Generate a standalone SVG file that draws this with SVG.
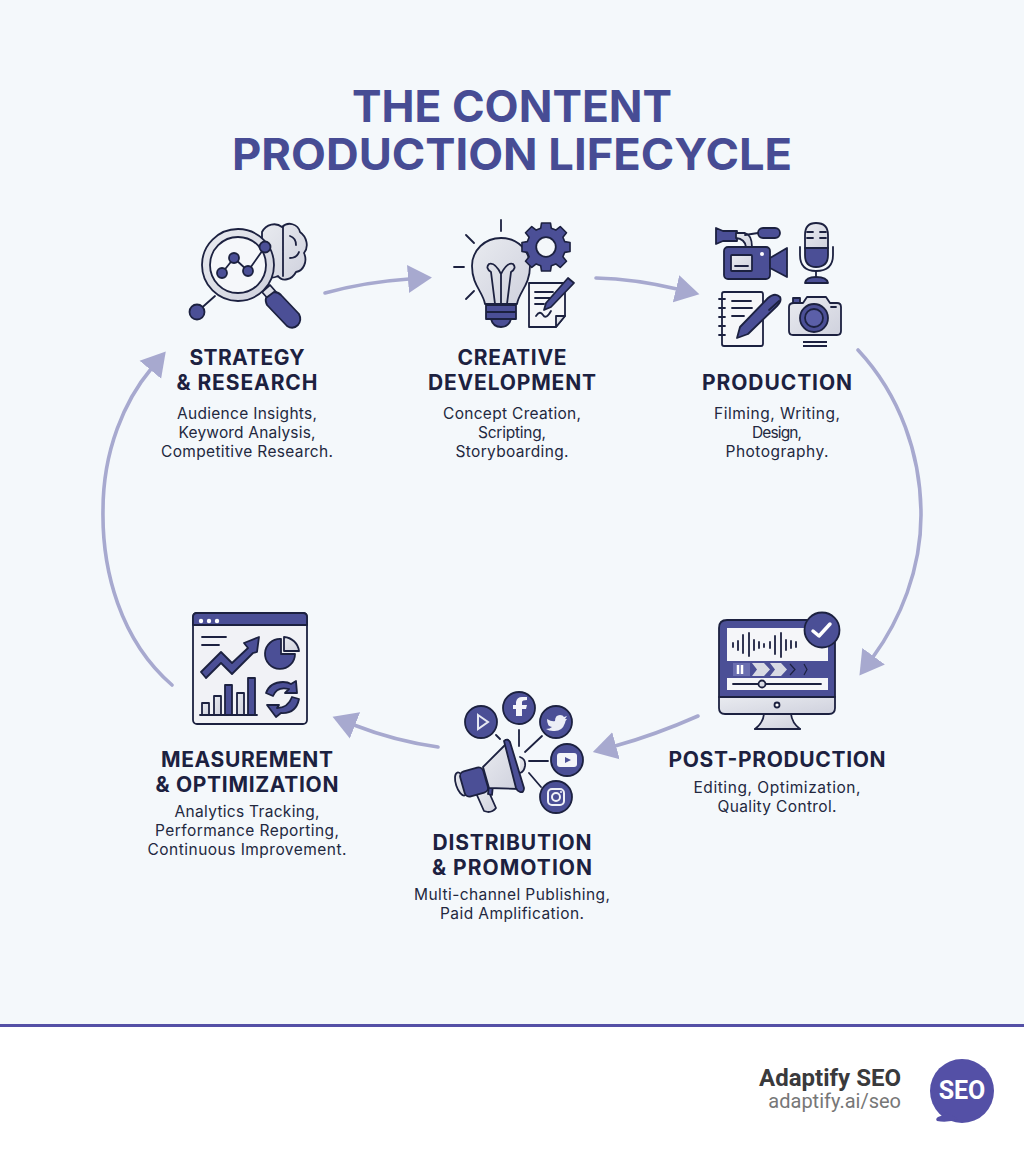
<svg xmlns="http://www.w3.org/2000/svg" width="1024" height="1154" viewBox="0 0 1024 1154">
<style>
.title{font:700 44px Inter,"Liberation Sans",sans-serif;fill:#474c94;text-anchor:middle}
.head{font:700 21px Inter,"Liberation Sans",sans-serif;fill:#1c2140;text-anchor:middle}
.body{font:400 15.5px Inter,"Liberation Sans",sans-serif;fill:#23283f;text-anchor:middle}
.a{fill:none;stroke:#a7a9cf;stroke-width:3.6;stroke-linecap:round}
.k{stroke:#1c2140;stroke-width:1.8;stroke-linejoin:round;stroke-linecap:round}
.i{fill:#4b4f96}.l{fill:url(#lg)}.w{fill:#f5f6f9}.n{fill:none}.p{fill:#fff;stroke:none}
</style>
<defs>
<marker id="ah" markerUnits="userSpaceOnUse" markerWidth="26" markerHeight="30" refX="1" refY="15" orient="auto"><path d="M0 1L24 15L0 29z" fill="#a7a9cf"/></marker>
<linearGradient id="lg" x1="0" y1="0" x2="1" y2="1"><stop offset="0" stop-color="#e9ebf0"/><stop offset="1" stop-color="#cfd1dd"/></linearGradient>
</defs>
<rect width="1024" height="1024" fill="#f4f8fb"/>
<rect y="1024" width="1024" height="130" fill="#fff"/>
<rect y="1024" width="1024" height="3" fill="#5450a6"/>
<g id="title"><text class="title" x="512" y="122" textLength="320" lengthAdjust="spacingAndGlyphs">THE CONTENT</text><text class="title" x="512" y="170" textLength="560" lengthAdjust="spacingAndGlyphs">PRODUCTION LIFECYCLE</text></g>

<g id="connectors">
<path class="a" marker-end="url(#ah)" d="M325 293Q365 282 409 279"/>
<path class="a" marker-end="url(#ah)" d="M596 278Q635 279 677 289"/>
<path class="a" marker-end="url(#ah)" d="M858 350C900 395 921 455 921 515C921 570 900 620 873 657"/>
<path class="a" marker-end="url(#ah)" d="M698 716Q655 735 615 746"/>
<path class="a" marker-end="url(#ah)" d="M438 747Q395 741 354 725"/>
<path class="a" marker-end="url(#ah)" d="M172 685C120 640 102 570 103 510C103 450 125 400 151 369"/>
</g>

<g id="node-strategy">
<path class="k l" d="M262 232C266 224 276 222 282 227C288 221 298 224 300 232C307 237 309 247 304 253C308 262 303 271 296 272C292 280 282 282 278 276C270 280 262 276 262 270z"/>
<path class="k n" d="M283 227V276M290 236Q296 238 296 245M290 258Q297 258 299 252"/>
<path class="k n" d="M197 312L215 296"/>
<circle class="k i" cx="197" cy="312" r="7.500"/>
<path class="k l" d="M262 292L270 285L277 293L269 300z"/>
<path class="k i" d="M266 298L274 292Q278 292 281 295L299 314Q302 320 298 325Q293 330 287 326L267 305Q265 301 266 298z"/>
<circle class="k l" cx="238" cy="265" r="36"/>
<circle class="k" cx="238" cy="265" r="28" fill="#f5f7fa"/>
<path class="k n" d="M222 273L234 258L248 271L265 247"/>
<circle class="k i" cx="222" cy="273" r="5"/><circle class="k i" cx="234" cy="258" r="5"/><circle class="k i" cx="248" cy="271" r="5"/><circle class="k i" cx="265" cy="247" r="5.500"/>
<text class="head" x="247" y="365" textLength="115">STRATEGY</text><text class="head" x="247" y="390" textLength="141">&amp; RESEARCH</text>
<text class="body" x="247" y="419" textLength="140">Audience Insights,</text><text class="body" x="247" y="438" textLength="137">Keyword Analysis,</text><text class="body" x="247" y="457" textLength="172">Competitive Research.</text>
</g>

<g id="node-creative">
<path class="k n" d="M501 220V231M466 235L474 243M454 267H464M466 299L474 291"/>
<path class="k l" d="M485 304C483 292 472 285 472 266C472 250 485 238 501 238C517 238 530 250 530 266C530 285 519 292 517 304z"/>
<path class="k n" d="M495 304L491 272Q485 268 489 264Q495 262 501 274Q507 262 513 264Q517 268 511 272L507 304M501 274V304"/>
<path class="k i" d="M486 305H516V312H486zM486 312H516V319H486zM491 319H511Q509 327 501 327Q493 327 491 319z"/>
<g transform="translate(546 247) scale(.89) translate(-547 -250)">
<path class="k i" d="M542 223H552L553 229L558 231L563 227L570 234L566 239L568 244L574 245V255L568 256L566 261L570 266L563 273L558 269L553 271L552 277H542L541 271L536 269L531 273L524 266L528 261L526 256L520 255V245L526 244L528 239L524 234L531 227L536 231L541 229z"/>
<circle cx="547" cy="250" r="11" style="fill:#f4f7fa;stroke:#1c2140;stroke-width:2"/></g>
<path class="k w" d="M529 283H565V316L556 327H529z"/>
<path class="k l" d="M556 327V316H565z"/>
<path class="k n" d="M535 292H553M535 298H550M535 304H544M536 316Q540 310 543 315T551 311"/>
<path class="k i" d="M546 303L568 278L574 283L551 307L544 310z"/>
<text class="head" x="512" y="365" textLength="109">CREATIVE</text><text class="head" x="512" y="390" textLength="168">DEVELOPMENT</text>
<text class="body" x="512" y="419" textLength="138">Concept Creation,</text><text class="body" x="512" y="438" textLength="68">Scripting,</text><text class="body" x="512" y="457" textLength="113">Storyboarding.</text>
</g>

<g id="node-production">
<path class="k i" d="M716 228L723 231H737V241H723L716 244z"/>
<path class="k l" d="M736 233H745Q752 235 752 247H746Q745 239 736 238z"/>
<rect class="k i" x="758" y="228" width="22" height="10" rx="5"/><path class="k n" d="M745 235L758 233"/>
<rect class="k i" x="724" y="247" width="46" height="32" rx="4"/>
<path class="k i" d="M770 258L787 248V277L770 268z"/>
<rect class="k l" x="731" y="255" width="21" height="16" rx="1"/><path class="k n" d="M735 266H748"/>
<circle class="p" cx="762" cy="254" r="2"/>
<path class="k i" d="M805 248V255Q805 267 816 267Q828 267 828 255V248z"/>
<path class="k l" d="M805 248V235Q805 223 816 223Q828 223 828 235V248z"/>
<path class="k n" d="M807 232H813M807 238H813M820 232H826M820 238H826M800 247V255Q800 271 816 271Q833 271 833 255V247M816 271V277"/>
<path class="k i" d="M805 283Q806 277 816 277Q827 277 828 283z"/>
<rect class="k w" x="722" y="292" width="41" height="54" rx="2"/>
<path class="k n" d="M719 299H725M719 308H725M719 317H725M719 326H725M719 335H725M732 301H751M732 308H752M732 316H744"/>
<path class="k i" d="M737 338L740 327L768 298Q775 292 780 297Q782 301 777 306L748 334z"/>
<path class="k n" d="M769 310L779 301"/>
<path class="k l" d="M794 303H803L807 297H826L830 303H837Q841 303 841 307V331Q841 335 837 335H793Q789 335 789 331V307Q789 303 794 303z"/>
<rect class="k i" x="793" y="298" width="7" height="5"/>
<circle class="k i" cx="814" cy="318" r="14"/><circle class="k" cx="814" cy="318" r="9" fill="#5b5fa8"/>
<path class="k n" d="M831 307H836"/><path d="M803 342H827M803 346H827" stroke="#1c2140" stroke-width="2"/>
<text class="head" x="777" y="390" textLength="150">PRODUCTION</text>
<text class="body" x="777" y="419" textLength="126">Filming, Writing,</text><text class="body" x="777" y="438" textLength="50">Design,</text><text class="body" x="777" y="457" textLength="103">Photography.</text>
</g>

<g id="node-post">
<path class="k l" d="M764 714H791Q792 723 800 729H755Q763 723 764 714z"/>
<path class="k n" d="M755 729H800"/>
<path class="k i" d="M719 697V628Q719 620 727 620H827Q835 620 835 628V697z"/>
<path class="k l" d="M719 697H835V708Q835 714 829 714H725Q719 714 719 708z"/>
<circle class="k" cx="777" cy="705" r="2.500" fill="#fff"/>
<rect class="w" x="727" y="628" width="101" height="33"/>
<rect class="w" x="727" y="678" width="101" height="12"/>
<path class="k n" d="M733 643V647M738 641V650M743 635V653M749 633V656M754 640V650M759 642V648M764 644V647M770 642V648M775 636V654M781 633V657M786 640V650M791 641V648M796 642V647M733 684H821"/>
<circle class="k l" cx="762" cy="684" r="3.500"/>
<rect x="733" y="663" width="17" height="13" fill="#6a6eb0"/>
<path d="M738 665V674M742 665V674" stroke="#fff" stroke-width="2.500"/>
<path d="M752 663H764L770 669.500L764 676H752L757 669.500zM770 663H781L787 669.500L781 676H770L775 669.500z" fill="#d8dae4"/>
<path d="M790 664L795 669.500L790 675M804 664L807 669.500L804 675" fill="none" stroke="#1c2140" stroke-width="1.200"/>
<circle class="k i" cx="822" cy="630" r="17.500"/>
<path d="M813 631L819 636L830 624" fill="none" stroke="#fff" stroke-width="3.500" stroke-linecap="round" stroke-linejoin="round"/>
<text class="head" x="777" y="767" textLength="217">POST-PRODUCTION</text>
<text class="body" x="777" y="793" textLength="167">Editing, Optimization,</text><text class="body" x="777" y="812" textLength="119">Quality Control.</text>
</g>

<g id="node-distribution">
<path class="k n" d="M496 735L500 739M519 730V746M542 736L525 752M548 761H529M541 787L529 773"/>
<path class="k l" d="M476 793L488 790L496 808Q493 812 488 812L484 811z"/>
<path class="k i" d="M489 786L493 785L492 795L488 794z"/>
<ellipse class="k l" cx="461" cy="784" rx="5" ry="12" transform="rotate(-18 461 784)"/>
<rect class="k i" x="462" y="769" width="24" height="26" rx="5" transform="rotate(-16 474 782)"/>
<path class="k l" d="M483 767L507 743L520 789L489 788z"/>
<path class="k l" d="M520 757Q526 759 525 766Q524 772 520 773"/>
<path class="k i" d="M504 741Q508 738 510 742L524 788Q524 793 520 792Q517 791 516 788z"/>
<circle class="k i" cx="481" cy="722" r="16"/><circle class="k i" cx="519" cy="708" r="16"/><circle class="k i" cx="556" cy="722" r="16"/><circle class="k i" cx="567" cy="760" r="16"/><circle class="k i" cx="556" cy="797" r="16"/>
<path d="M478 715L488 722L478 729z" fill="none" stroke="#e6e8f2" stroke-width="2"/>
<path d="M522 716V709H526L527 705H522V702Q522 700 527 700V697H522Q517 697 516 702V705H513V709H516V716z" fill="#f3f4f9"/>
<path d="M547 719Q552 722 555 721Q555 715 560 715Q563 715 564 717L567 716L565 719L567 719Q565 721 565 723Q562 732 553 731Q549 731 546 729Q550 729 552 727Q548 726 548 724Q547 722 547 719z" fill="#eceef6"/>
<rect x="557" y="753" width="20" height="14" rx="3" fill="#f3f4f9"/><path d="M565 757L571 760L565 763z" fill="#4b4f96"/>
<rect x="548" y="789" width="16" height="16" rx="4" fill="none" stroke="#f0f1f8" stroke-width="2"/><circle cx="556" cy="797" r="4" fill="none" stroke="#f0f1f8" stroke-width="2"/><circle cx="561" cy="792" r="1" fill="#f0f1f8"/>
<text class="head" x="512" y="850" textLength="159">DISTRIBUTION</text><text class="head" x="512" y="875" textLength="160">&amp; PROMOTION</text>
<text class="body" x="512" y="900" textLength="196">Multi-channel Publishing,</text><text class="body" x="512" y="919" textLength="144">Paid Amplification.</text>
</g>

<g id="node-measurement">
<rect class="k" x="193" y="613" width="114" height="111" rx="4" fill="#f1f2f6"/>
<path class="k i" d="M193 625V617Q193 613 197 613H303Q307 613 307 617V625z"/>
<circle class="p" cx="201" cy="621" r="2.200"/><circle class="p" cx="209" cy="621" r="2.200"/><circle class="p" cx="217" cy="621" r="2.200"/>
<path class="k n" d="M202 637H226M202 645H219"/>
<path class="k i" d="M201 672L221 652L232 663L248 648L244 643L259 637L257 652L253 653L232 674L221 663L206 678z"/>
<path class="k i" d="M281 639A15 15 0 1 0 295 654H281z"/>
<path class="k l" d="M284 637A16 16 0 0 1 299 651H284z"/>
<rect class="k l" x="202" y="703" width="7" height="12"/><rect class="k l" x="214" y="696" width="7" height="19"/><rect class="k i" x="225" y="685" width="7" height="30"/><rect class="k l" x="237" y="693" width="7" height="22"/><rect class="k i" x="248" y="678" width="7" height="37"/>
<path class="k n" d="M200 715H257"/>
<path class="k i" d="M266 693Q270 682 283 682Q288 682 291 684L296 681L297 693L285 693L289 689Q277 686 273 696z"/>
<path class="k i" d="M299 699Q296 714 281 713L276 717L267 705L279 705L277 708Q288 708 292 697z"/>
<text class="head" x="247" y="767" textLength="172">MEASUREMENT</text><text class="head" x="247" y="792" textLength="183">&amp; OPTIMIZATION</text>
<text class="body" x="247" y="817" textLength="145">Analytics Tracking,</text><text class="body" x="247" y="836" textLength="184">Performance Reporting,</text><text class="body" x="247" y="855" textLength="199">Continuous Improvement.</text>
</g>

<g id="footer">
<text x="901" y="1086" text-anchor="end" font-family="Roboto,sans-serif" font-weight="700" font-size="24" fill="#3a3a3c">Adaptify SEO</text>
<text x="901" y="1108" text-anchor="end" font-family="Roboto,sans-serif" font-size="20" fill="#777">adaptify.ai/seo</text>
<circle cx="962" cy="1091" r="32" fill="#5450a6"/>
<path d="M945 1112Q944 1115 938 1117Q935 1119 937 1121Q948 1123 958 1119z" fill="#5450a6"/>
<text x="962" y="1099" text-anchor="middle" font-family="Roboto,sans-serif" font-weight="700" font-size="25" fill="#fff">SEO</text>
</g>
</svg>
